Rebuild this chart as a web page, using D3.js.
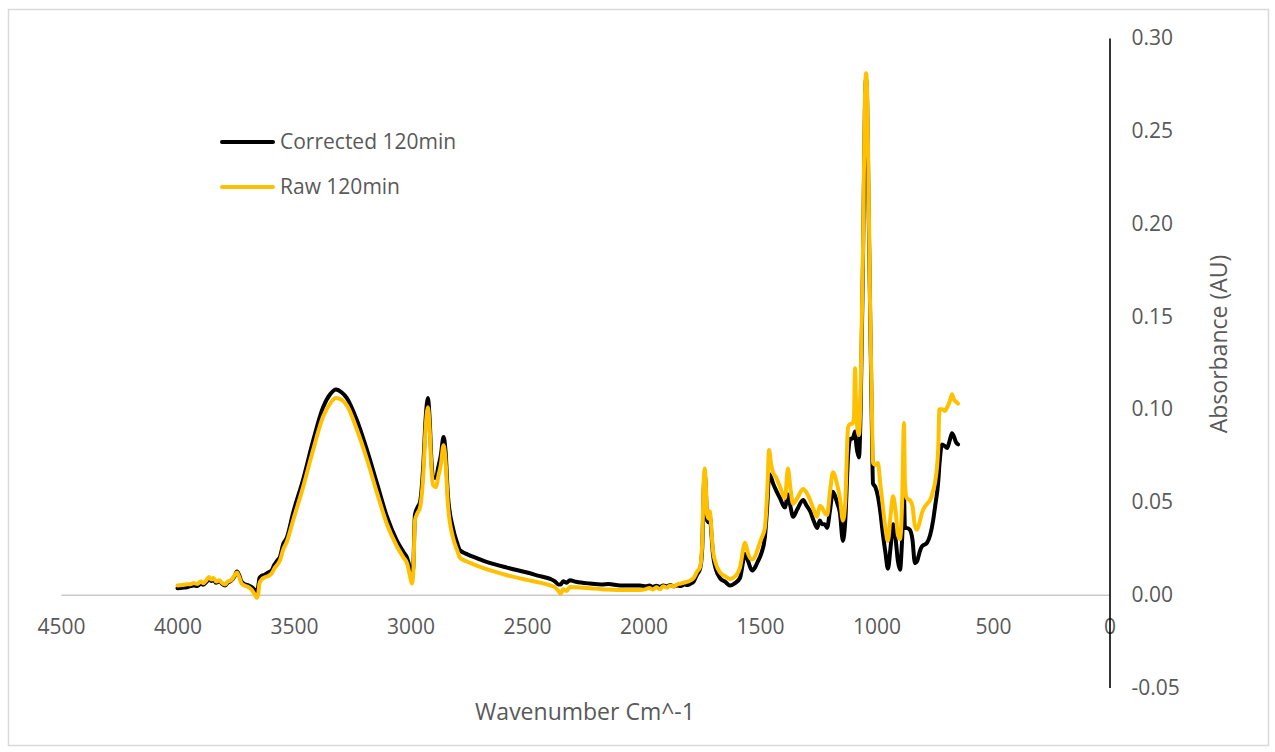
<!DOCTYPE html>
<html>
<head>
<meta charset="utf-8">
<script src="https://cdn.jsdelivr.net/npm/d3@7"></script>
<style>
  html, body { margin: 0; padding: 0; background: #fff; }
  svg { display: block; }
  text { font-family: "Open Sans", "Liberation Sans", sans-serif; fill: #595959; }
</style>
</head>
<body>
<svg id="chart" width="1275" height="752"></svg>
<script>
// FTIR spectrum, 120 min sample: baseline-corrected vs raw absorbance
const wavenumbers = [
  4000, 3980, 3960, 3945, 3930, 3915, 3900, 3890, 3875, 3865, 3855, 3845, 3835, 3820, 3810, 3795,
  3785, 3770, 3755, 3745, 3735, 3725, 3710, 3695, 3680, 3668, 3660, 3654, 3648, 3640, 3625, 3610,
  3595, 3585, 3573, 3560, 3547, 3530, 3504, 3461, 3418, 3375, 3345, 3320, 3295, 3273, 3230, 3187,
  3144, 3101, 3058, 3030, 3015, 3002, 2994, 2988, 2981, 2970, 2959, 2945, 2935, 2925, 2918, 2910,
  2903, 2890, 2882, 2870, 2858, 2850, 2839, 2818, 2800, 2788, 2760, 2732, 2680, 2586, 2500, 2444,
  2400, 2380, 2365, 2355, 2345, 2330, 2316, 2290, 2230, 2180, 2150, 2100, 2050, 2015, 1990, 1975,
  1960, 1945, 1930, 1915, 1900, 1885, 1870, 1855, 1840, 1825, 1810, 1800, 1785, 1770, 1757, 1748,
  1742, 1737, 1732, 1727, 1720, 1715, 1708, 1702, 1690, 1672, 1650, 1629, 1610, 1586, 1564, 1551,
  1534, 1520, 1509, 1495, 1479, 1468, 1461, 1452, 1444, 1430, 1414, 1393, 1380, 1370, 1358, 1340,
  1315, 1300, 1285, 1270, 1255, 1243, 1234, 1222, 1212, 1200, 1187, 1170, 1157, 1144, 1134, 1122,
  1112, 1105, 1097, 1092, 1086, 1075, 1068, 1058, 1050, 1045, 1040, 1034, 1028, 1021, 1015, 1005,
  994, 984, 972, 962, 951, 940, 929, 918, 908, 899, 890, 882, 878, 870, 857, 846,
  835, 826, 815, 805, 783, 770, 757, 748, 735, 730, 719, 706, 697, 686, 676, 667,
  658, 650
];

const corrected = [
  0.0035, 0.0038, 0.0040, 0.0046, 0.0050, 0.0047, 0.0060, 0.0054, 0.0070, 0.0086, 0.0074, 0.0080, 0.0064, 0.0072, 0.0060, 0.0050,
  0.0064, 0.0075, 0.0100, 0.0125, 0.0105, 0.0070, 0.0056, 0.0050, 0.0040, 0.0026, 0.0020, 0.0040, 0.0090, 0.0100, 0.0108, 0.0120,
  0.0132, 0.0160, 0.0182, 0.0205, 0.0270, 0.0310, 0.0440, 0.0620, 0.0830, 0.1010, 0.1080, 0.1106, 0.1090, 0.1060, 0.0940, 0.0780,
  0.0600, 0.0420, 0.0290, 0.0230, 0.0200, 0.0140, 0.0090, 0.0150, 0.0430, 0.0470, 0.0500, 0.0700, 0.0950, 0.1060, 0.0950, 0.0720,
  0.0630, 0.0630, 0.0680, 0.0750, 0.0850, 0.0780, 0.0530, 0.0360, 0.0280, 0.0240, 0.0220, 0.0205, 0.0180, 0.0146, 0.0120, 0.0100,
  0.0085, 0.0072, 0.0055, 0.0055, 0.0072, 0.0065, 0.0078, 0.0070, 0.0060, 0.0055, 0.0058, 0.0050, 0.0050, 0.0050, 0.0045, 0.0050,
  0.0042, 0.0048, 0.0042, 0.0050, 0.0045, 0.0052, 0.0045, 0.0050, 0.0047, 0.0055, 0.0052, 0.0058, 0.0070, 0.0110, 0.0140, 0.0250,
  0.0550, 0.0650, 0.0550, 0.0400, 0.0390, 0.0420, 0.0320, 0.0220, 0.0140, 0.0090, 0.0070, 0.0050, 0.0060, 0.0090, 0.0220, 0.0180,
  0.0130, 0.0150, 0.0180, 0.0220, 0.0310, 0.0500, 0.0650, 0.0630, 0.0600, 0.0560, 0.0520, 0.0470, 0.0540, 0.0480, 0.0420, 0.0460,
  0.0510, 0.0480, 0.0450, 0.0400, 0.0360, 0.0400, 0.0380, 0.0380, 0.0360, 0.0450, 0.0555, 0.0500, 0.0440, 0.0290, 0.0400, 0.0750,
  0.0840, 0.0840, 0.0860, 0.0880, 0.0800, 0.0740, 0.1000, 0.1800, 0.2600, 0.2780, 0.2650, 0.2100, 0.1580, 0.1000, 0.0600, 0.0580,
  0.0530, 0.0450, 0.0320, 0.0230, 0.0140, 0.0250, 0.0380, 0.0300, 0.0180, 0.0135, 0.0300, 0.0530, 0.0360, 0.0360, 0.0350, 0.0300,
  0.0170, 0.0180, 0.0230, 0.0260, 0.0280, 0.0320, 0.0400, 0.0480, 0.0610, 0.0700, 0.0810, 0.0800, 0.0790, 0.0830, 0.0870, 0.0850,
  0.0820, 0.0810
];

const raw = [
  0.0050, 0.0052, 0.0056, 0.0057, 0.0063, 0.0058, 0.0071, 0.0062, 0.0080, 0.0096, 0.0082, 0.0090, 0.0071, 0.0078, 0.0065, 0.0055,
  0.0070, 0.0078, 0.0104, 0.0120, 0.0095, 0.0060, 0.0048, 0.0040, 0.0024, 0.0000, -0.0016, 0.0000, 0.0062, 0.0080, 0.0094, 0.0101,
  0.0116, 0.0140, 0.0160, 0.0186, 0.0242, 0.0288, 0.0400, 0.0580, 0.0780, 0.0960, 0.1030, 0.1060, 0.1050, 0.1020, 0.0890, 0.0730,
  0.0550, 0.0380, 0.0260, 0.0200, 0.0170, 0.0100, 0.0060, 0.0120, 0.0400, 0.0440, 0.0470, 0.0650, 0.0900, 0.1010, 0.0900, 0.0680,
  0.0590, 0.0580, 0.0630, 0.0700, 0.0805, 0.0730, 0.0480, 0.0310, 0.0240, 0.0200, 0.0180, 0.0165, 0.0140, 0.0105, 0.0080, 0.0065,
  0.0050, 0.0040, 0.0020, 0.0005, 0.0030, 0.0020, 0.0042, 0.0040, 0.0035, 0.0030, 0.0028, 0.0025, 0.0025, 0.0025, 0.0030, 0.0036,
  0.0028, 0.0040, 0.0030, 0.0046, 0.0038, 0.0050, 0.0045, 0.0056, 0.0060, 0.0066, 0.0070, 0.0076, 0.0090, 0.0125, 0.0150, 0.0280,
  0.0600, 0.0680, 0.0580, 0.0430, 0.0410, 0.0450, 0.0340, 0.0240, 0.0170, 0.0120, 0.0100, 0.0085, 0.0095, 0.0146, 0.0280, 0.0220,
  0.0190, 0.0210, 0.0250, 0.0300, 0.0360, 0.0580, 0.0780, 0.0700, 0.0660, 0.0630, 0.0580, 0.0520, 0.0680, 0.0580, 0.0490, 0.0520,
  0.0570, 0.0550, 0.0510, 0.0460, 0.0420, 0.0480, 0.0470, 0.0440, 0.0430, 0.0550, 0.0660, 0.0600, 0.0520, 0.0400, 0.0500, 0.0900,
  0.0920, 0.0920, 0.0950, 0.1220, 0.0950, 0.0860, 0.1100, 0.1850, 0.2650, 0.2810, 0.2700, 0.2200, 0.1600, 0.1100, 0.0710, 0.0700,
  0.0710, 0.0600, 0.0470, 0.0360, 0.0290, 0.0420, 0.0530, 0.0450, 0.0320, 0.0300, 0.0500, 0.0925, 0.0600, 0.0520, 0.0510, 0.0480,
  0.0370, 0.0350, 0.0390, 0.0440, 0.0490, 0.0510, 0.0560, 0.0610, 0.0790, 0.1000, 0.1000, 0.0990, 0.1010, 0.1040, 0.1080, 0.1050,
  0.1040, 0.1030
];

const xTicks = [4500, 4000, 3500, 3000, 2500, 2000, 1500, 1000, 500, 0];
const yTicks = [-0.05, 0, 0.05, 0.10, 0.15, 0.20, 0.25, 0.30];

const seriesNames = ["Corrected 120min", "Raw 120min"];
const seriesColors = ["#000000", "#FFC000"];
const xTitle = "Wavenumber Cm^-1";
const yTitle = "Absorbance (AU)";

const svg = d3.select("#chart");

// chart area frame
svg.append("rect")
  .attr("x", 8.5).attr("y", 9.5)
  .attr("width", 1260).attr("height", 736)
  .attr("fill", "#fff").attr("stroke", "#d9d9d9").attr("stroke-width", 1.5);

const x = d3.scaleLinear().domain([4500, 0]).range([61, 1109.5]);
const y = d3.scaleLinear().domain([-0.05, 0.30]).range([687.5, 38]);

// horizontal axis along zero absorbance
const xAxis = d3.axisBottom(x)
  .tickValues(xTicks)
  .tickFormat(d => String(d))
  .tickSize(0)
  .tickPadding(24);

const gx = svg.append("g")
  .attr("transform", `translate(0,${y(0)})`)
  .call(xAxis);
gx.select(".domain").attr("stroke", "#c9c9c9").attr("stroke-width", 1.5);
gx.selectAll("text").attr("font-size", 21).attr("fill", "#595959")
  .style("font-family", '"Open Sans", sans-serif');

// spectra
const seriesData = [corrected, raw];
const line = d3.line()
  .x((d, i) => x(wavenumbers[i]))
  .y(d => y(d))
  .curve(d3.curveMonotoneX);

seriesData.forEach((vals, k) => {
  svg.append("path")
    .datum(vals)
    .attr("d", line)
    .attr("fill", "none")
    .attr("stroke", seriesColors[k])
    .attr("stroke-width", 4)
    .attr("stroke-linejoin", "round")
    .attr("stroke-linecap", "round");
});

// vertical axis at wavenumber 0, labels to its right
const yAxis = d3.axisRight(y)
  .tickValues(yTicks)
  .tickFormat(d => d.toFixed(2))
  .tickSize(0)
  .tickPadding(22);

const gy = svg.append("g")
  .attr("transform", `translate(${x(0)},0)`)
  .call(yAxis);
gy.select(".domain").attr("stroke", "#000").attr("stroke-width", 1.6);
gy.selectAll("text").attr("font-size", 21).attr("fill", "#595959")
  .style("font-family", '"Open Sans", sans-serif');

// axis titles
svg.append("text")
  .attr("x", 585).attr("y", 720)
  .attr("text-anchor", "middle")
  .attr("font-size", 23)
  .text(xTitle);

svg.append("text")
  .attr("transform", "translate(1227,344) rotate(-90)")
  .attr("text-anchor", "middle")
  .attr("font-size", 23)
  .text(yTitle);

// legend
const legendY = [142, 187];
seriesNames.forEach((name, k) => {
  svg.append("line")
    .attr("x1", 222).attr("x2", 273)
    .attr("y1", legendY[k]).attr("y2", legendY[k])
    .attr("stroke", seriesColors[k])
    .attr("stroke-width", 4)
    .attr("stroke-linecap", "round");
  svg.append("text")
    .attr("x", 280).attr("y", legendY[k])
    .attr("dy", "0.35em")
    .attr("font-size", 21)
    .text(name);
});
</script>
</body>
</html>
